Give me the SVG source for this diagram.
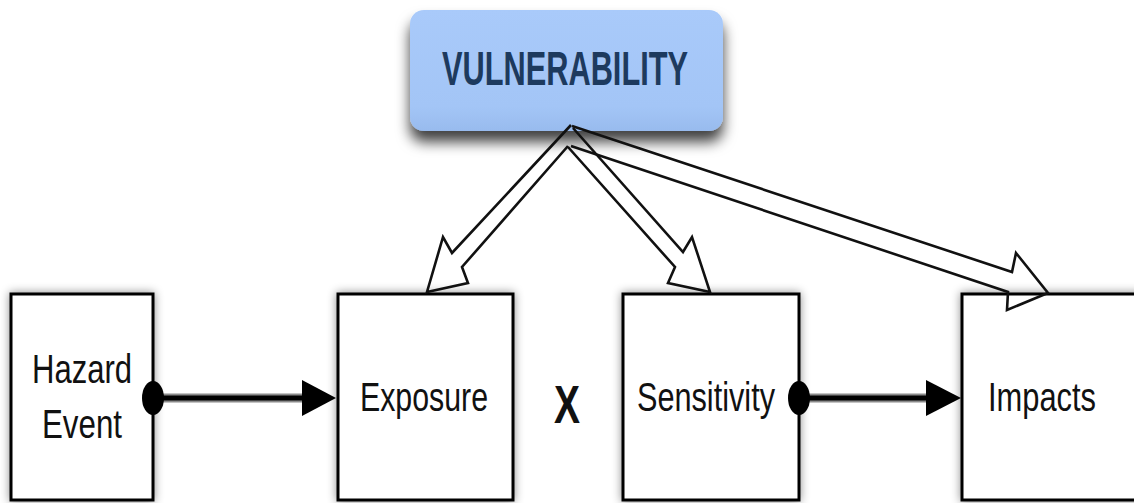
<svg xmlns="http://www.w3.org/2000/svg" width="1134" height="503" viewBox="0 0 1134 503">
<style>
.box{fill:#fff;stroke:#000;stroke-width:3}
.lbl{font-family:"Liberation Sans",Arial,sans-serif;font-size:40px;fill:#111;text-anchor:middle}
.hollow{fill:none;stroke:#111;stroke-width:2.6;stroke-linejoin:miter}
.halo{stroke:#8a8a8a;stroke-width:9;fill:none}
.core{stroke:#000;stroke-width:5;fill:none}
</style>
<defs>
<filter id="sh" x="-20%" y="-20%" width="140%" height="140%">
<feDropShadow dx="0" dy="0" stdDeviation="5" flood-color="#000" flood-opacity="0.45"/>
</filter>
<filter id="sh2" x="-20%" y="-30%" width="140%" height="190%">
<feDropShadow dx="0" dy="11" stdDeviation="7" flood-color="#000" flood-opacity="0.75"/>
</filter>
<linearGradient id="vg" x1="0" y1="0" x2="0" y2="1">
<stop offset="0" stop-color="#a9cafa"/>
<stop offset="0.8" stop-color="#a3c5f6"/>
<stop offset="1" stop-color="#98bbee"/>
</linearGradient>
</defs>
<rect width="1134" height="503" fill="#fff"/>
<g id="vulnerability">
<rect x="410" y="10" width="313" height="121" rx="14" fill="url(#vg)" filter="url(#sh2)"/>
<text x="565" y="85" font-family="Liberation Sans,Arial,sans-serif" font-weight="bold" font-size="49" fill="#1d3a5e" text-anchor="middle" textLength="246" lengthAdjust="spacingAndGlyphs">VULNERABILITY</text>
</g>
<g id="hazard">
<rect class="box" x="11" y="294" width="142" height="206" filter="url(#sh)"/>
<text class="lbl" x="82" y="383" textLength="100" lengthAdjust="spacingAndGlyphs">Hazard</text>
<text class="lbl" x="82" y="438" textLength="80" lengthAdjust="spacingAndGlyphs">Event</text>
</g>
<g id="exposure">
<rect class="box" x="338" y="294" width="175" height="206" filter="url(#sh)"/>
<text class="lbl" x="424" y="411" textLength="128" lengthAdjust="spacingAndGlyphs">Exposure</text>
</g>
<g id="times">
<text x="567" y="423" font-family="Liberation Sans,Arial,sans-serif" font-weight="bold" font-size="53" fill="#111" text-anchor="middle" textLength="26" lengthAdjust="spacingAndGlyphs">X</text>
</g>
<g id="sensitivity">
<rect class="box" x="623" y="294" width="176" height="206" filter="url(#sh)"/>
<text class="lbl" x="706" y="411" textLength="138" lengthAdjust="spacingAndGlyphs">Sensitivity</text>
</g>
<g id="impacts">
<rect class="box" x="962" y="294" width="180" height="206" filter="url(#sh)"/>
<text class="lbl" x="1042" y="411" textLength="108" lengthAdjust="spacingAndGlyphs">Impacts</text>
</g>
<g id="connectors">
<line class="halo" x1="160" y1="398" x2="305" y2="398"/>
<line class="core" x1="153" y1="398" x2="305" y2="398"/>
<ellipse cx="153" cy="398" rx="11" ry="17" fill="#000"/>
<polygon points="302,380 336,398 302,416" fill="#000"/>
<line class="halo" x1="806" y1="398" x2="928" y2="398"/>
<line class="core" x1="799" y1="398" x2="928" y2="398"/>
<ellipse cx="799" cy="398" rx="11" ry="17" fill="#000"/>
<polygon points="926,380 961,398 926,416" fill="#000"/>
<polyline class="hollow" points="571,125 452,253 443,237 427,292 468,283 462,267 568,146"/>
<polyline class="hollow" points="573,128 683,252 692,237 710,292 668,283 675,267 568,147"/>
<polyline class="hollow" points="572,126 1012,272 1016,253 1048,293 1007,310 1008,292 571,146"/>
</g>
</svg>
